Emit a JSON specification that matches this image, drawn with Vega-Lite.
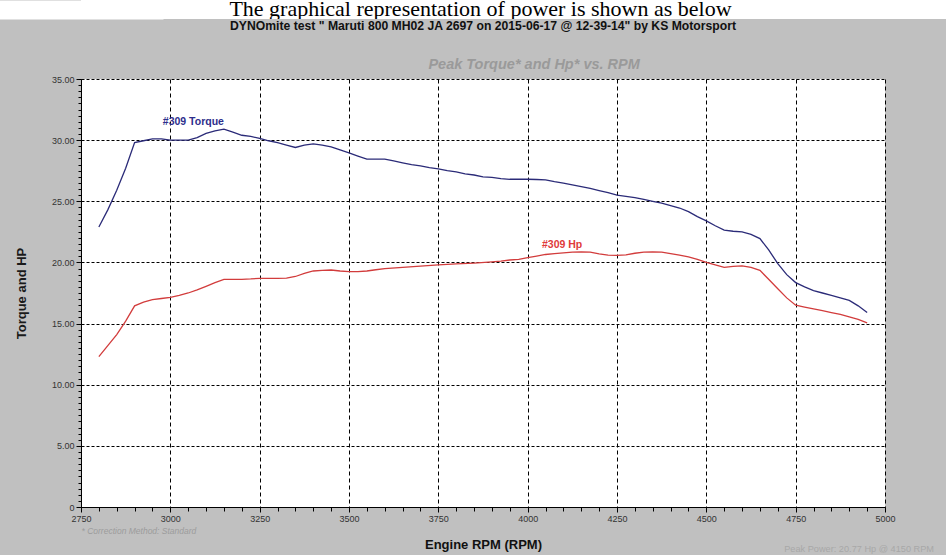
{
  "$schema": "https://vega.github.io/schema/vega-lite/v6.json",
  "background": "#c0c0c0",
  "padding": 0,
  "spacing": 0,
  "columns": 1,
  "config": {"view": {"stroke": null}},
  "datasets": {
    "curves": [
      {"rpm": 2800, "series": "Torque", "value": 22.9},
      {"rpm": 2825, "series": "Torque", "value": 24.3},
      {"rpm": 2850, "series": "Torque", "value": 25.9},
      {"rpm": 2875, "series": "Torque", "value": 27.7},
      {"rpm": 2900, "series": "Torque", "value": 29.8},
      {"rpm": 2925, "series": "Torque", "value": 29.95},
      {"rpm": 2950, "series": "Torque", "value": 30.1},
      {"rpm": 2975, "series": "Torque", "value": 30.1},
      {"rpm": 3000, "series": "Torque", "value": 30.0},
      {"rpm": 3025, "series": "Torque", "value": 30.0},
      {"rpm": 3050, "series": "Torque", "value": 30.0},
      {"rpm": 3075, "series": "Torque", "value": 30.2},
      {"rpm": 3100, "series": "Torque", "value": 30.55},
      {"rpm": 3125, "series": "Torque", "value": 30.75},
      {"rpm": 3150, "series": "Torque", "value": 30.9},
      {"rpm": 3175, "series": "Torque", "value": 30.65},
      {"rpm": 3200, "series": "Torque", "value": 30.4},
      {"rpm": 3225, "series": "Torque", "value": 30.3},
      {"rpm": 3250, "series": "Torque", "value": 30.15},
      {"rpm": 3275, "series": "Torque", "value": 29.95},
      {"rpm": 3300, "series": "Torque", "value": 29.8},
      {"rpm": 3325, "series": "Torque", "value": 29.6},
      {"rpm": 3350, "series": "Torque", "value": 29.4},
      {"rpm": 3375, "series": "Torque", "value": 29.6},
      {"rpm": 3400, "series": "Torque", "value": 29.7},
      {"rpm": 3425, "series": "Torque", "value": 29.6},
      {"rpm": 3450, "series": "Torque", "value": 29.45},
      {"rpm": 3475, "series": "Torque", "value": 29.2},
      {"rpm": 3500, "series": "Torque", "value": 28.95},
      {"rpm": 3525, "series": "Torque", "value": 28.7},
      {"rpm": 3550, "series": "Torque", "value": 28.45},
      {"rpm": 3575, "series": "Torque", "value": 28.45},
      {"rpm": 3600, "series": "Torque", "value": 28.45},
      {"rpm": 3625, "series": "Torque", "value": 28.3},
      {"rpm": 3650, "series": "Torque", "value": 28.15},
      {"rpm": 3675, "series": "Torque", "value": 28.0},
      {"rpm": 3700, "series": "Torque", "value": 27.9},
      {"rpm": 3725, "series": "Torque", "value": 27.75},
      {"rpm": 3750, "series": "Torque", "value": 27.65},
      {"rpm": 3775, "series": "Torque", "value": 27.5},
      {"rpm": 3800, "series": "Torque", "value": 27.4},
      {"rpm": 3825, "series": "Torque", "value": 27.25},
      {"rpm": 3850, "series": "Torque", "value": 27.15},
      {"rpm": 3875, "series": "Torque", "value": 27.0},
      {"rpm": 3900, "series": "Torque", "value": 26.95},
      {"rpm": 3925, "series": "Torque", "value": 26.85},
      {"rpm": 3950, "series": "Torque", "value": 26.8},
      {"rpm": 3975, "series": "Torque", "value": 26.8},
      {"rpm": 4000, "series": "Torque", "value": 26.8},
      {"rpm": 4025, "series": "Torque", "value": 26.78},
      {"rpm": 4050, "series": "Torque", "value": 26.75},
      {"rpm": 4075, "series": "Torque", "value": 26.6},
      {"rpm": 4100, "series": "Torque", "value": 26.48},
      {"rpm": 4125, "series": "Torque", "value": 26.35},
      {"rpm": 4150, "series": "Torque", "value": 26.2},
      {"rpm": 4175, "series": "Torque", "value": 26.05},
      {"rpm": 4200, "series": "Torque", "value": 25.88},
      {"rpm": 4225, "series": "Torque", "value": 25.7},
      {"rpm": 4250, "series": "Torque", "value": 25.5},
      {"rpm": 4275, "series": "Torque", "value": 25.4},
      {"rpm": 4300, "series": "Torque", "value": 25.3},
      {"rpm": 4325, "series": "Torque", "value": 25.15},
      {"rpm": 4350, "series": "Torque", "value": 25.0},
      {"rpm": 4375, "series": "Torque", "value": 24.85},
      {"rpm": 4400, "series": "Torque", "value": 24.65},
      {"rpm": 4425, "series": "Torque", "value": 24.45},
      {"rpm": 4450, "series": "Torque", "value": 24.15},
      {"rpm": 4475, "series": "Torque", "value": 23.75},
      {"rpm": 4500, "series": "Torque", "value": 23.4},
      {"rpm": 4525, "series": "Torque", "value": 23.0},
      {"rpm": 4550, "series": "Torque", "value": 22.65},
      {"rpm": 4575, "series": "Torque", "value": 22.55},
      {"rpm": 4600, "series": "Torque", "value": 22.5},
      {"rpm": 4625, "series": "Torque", "value": 22.3},
      {"rpm": 4650, "series": "Torque", "value": 21.95},
      {"rpm": 4675, "series": "Torque", "value": 21.0},
      {"rpm": 4700, "series": "Torque", "value": 19.9},
      {"rpm": 4725, "series": "Torque", "value": 19.0},
      {"rpm": 4750, "series": "Torque", "value": 18.35},
      {"rpm": 4775, "series": "Torque", "value": 18.0},
      {"rpm": 4800, "series": "Torque", "value": 17.7},
      {"rpm": 4825, "series": "Torque", "value": 17.5},
      {"rpm": 4850, "series": "Torque", "value": 17.3},
      {"rpm": 4875, "series": "Torque", "value": 17.1},
      {"rpm": 4900, "series": "Torque", "value": 16.9},
      {"rpm": 4925, "series": "Torque", "value": 16.45},
      {"rpm": 4950, "series": "Torque", "value": 15.9},
      {"rpm": 2800, "series": "Hp", "value": 12.3},
      {"rpm": 2825, "series": "Hp", "value": 13.2},
      {"rpm": 2850, "series": "Hp", "value": 14.1},
      {"rpm": 2875, "series": "Hp", "value": 15.2},
      {"rpm": 2900, "series": "Hp", "value": 16.45},
      {"rpm": 2925, "series": "Hp", "value": 16.75},
      {"rpm": 2950, "series": "Hp", "value": 16.95},
      {"rpm": 2975, "series": "Hp", "value": 17.05},
      {"rpm": 3000, "series": "Hp", "value": 17.15},
      {"rpm": 3025, "series": "Hp", "value": 17.3},
      {"rpm": 3050, "series": "Hp", "value": 17.5},
      {"rpm": 3075, "series": "Hp", "value": 17.75},
      {"rpm": 3100, "series": "Hp", "value": 18.05},
      {"rpm": 3125, "series": "Hp", "value": 18.35},
      {"rpm": 3150, "series": "Hp", "value": 18.62},
      {"rpm": 3175, "series": "Hp", "value": 18.62},
      {"rpm": 3200, "series": "Hp", "value": 18.62},
      {"rpm": 3225, "series": "Hp", "value": 18.65},
      {"rpm": 3250, "series": "Hp", "value": 18.7},
      {"rpm": 3275, "series": "Hp", "value": 18.7},
      {"rpm": 3300, "series": "Hp", "value": 18.7},
      {"rpm": 3325, "series": "Hp", "value": 18.72},
      {"rpm": 3350, "series": "Hp", "value": 18.85},
      {"rpm": 3375, "series": "Hp", "value": 19.1},
      {"rpm": 3400, "series": "Hp", "value": 19.3},
      {"rpm": 3425, "series": "Hp", "value": 19.35},
      {"rpm": 3450, "series": "Hp", "value": 19.38},
      {"rpm": 3475, "series": "Hp", "value": 19.3},
      {"rpm": 3500, "series": "Hp", "value": 19.25},
      {"rpm": 3525, "series": "Hp", "value": 19.25},
      {"rpm": 3550, "series": "Hp", "value": 19.3},
      {"rpm": 3575, "series": "Hp", "value": 19.4},
      {"rpm": 3600, "series": "Hp", "value": 19.5},
      {"rpm": 3650, "series": "Hp", "value": 19.6},
      {"rpm": 3700, "series": "Hp", "value": 19.7},
      {"rpm": 3750, "series": "Hp", "value": 19.8},
      {"rpm": 3800, "series": "Hp", "value": 19.88},
      {"rpm": 3850, "series": "Hp", "value": 19.95},
      {"rpm": 3900, "series": "Hp", "value": 20.05},
      {"rpm": 3925, "series": "Hp", "value": 20.1},
      {"rpm": 3950, "series": "Hp", "value": 20.2},
      {"rpm": 3975, "series": "Hp", "value": 20.25},
      {"rpm": 4000, "series": "Hp", "value": 20.4},
      {"rpm": 4025, "series": "Hp", "value": 20.52},
      {"rpm": 4050, "series": "Hp", "value": 20.65},
      {"rpm": 4075, "series": "Hp", "value": 20.72},
      {"rpm": 4100, "series": "Hp", "value": 20.78},
      {"rpm": 4125, "series": "Hp", "value": 20.85},
      {"rpm": 4150, "series": "Hp", "value": 20.87},
      {"rpm": 4175, "series": "Hp", "value": 20.85},
      {"rpm": 4200, "series": "Hp", "value": 20.7},
      {"rpm": 4225, "series": "Hp", "value": 20.6},
      {"rpm": 4250, "series": "Hp", "value": 20.58},
      {"rpm": 4275, "series": "Hp", "value": 20.62},
      {"rpm": 4300, "series": "Hp", "value": 20.75},
      {"rpm": 4325, "series": "Hp", "value": 20.85},
      {"rpm": 4350, "series": "Hp", "value": 20.87},
      {"rpm": 4375, "series": "Hp", "value": 20.85},
      {"rpm": 4400, "series": "Hp", "value": 20.72},
      {"rpm": 4425, "series": "Hp", "value": 20.6},
      {"rpm": 4450, "series": "Hp", "value": 20.45},
      {"rpm": 4475, "series": "Hp", "value": 20.25},
      {"rpm": 4500, "series": "Hp", "value": 20.0},
      {"rpm": 4525, "series": "Hp", "value": 19.8},
      {"rpm": 4550, "series": "Hp", "value": 19.6},
      {"rpm": 4575, "series": "Hp", "value": 19.68},
      {"rpm": 4600, "series": "Hp", "value": 19.72},
      {"rpm": 4625, "series": "Hp", "value": 19.6},
      {"rpm": 4650, "series": "Hp", "value": 19.35},
      {"rpm": 4675, "series": "Hp", "value": 18.6},
      {"rpm": 4700, "series": "Hp", "value": 17.85},
      {"rpm": 4725, "series": "Hp", "value": 17.1},
      {"rpm": 4750, "series": "Hp", "value": 16.5},
      {"rpm": 4775, "series": "Hp", "value": 16.35},
      {"rpm": 4800, "series": "Hp", "value": 16.2},
      {"rpm": 4825, "series": "Hp", "value": 16.05},
      {"rpm": 4850, "series": "Hp", "value": 15.9},
      {"rpm": 4875, "series": "Hp", "value": 15.75},
      {"rpm": 4900, "series": "Hp", "value": 15.55},
      {"rpm": 4925, "series": "Hp", "value": 15.35},
      {"rpm": 4950, "series": "Hp", "value": 15.05}
    ]
  },
  "concat": [
    {
      "width": 865,
      "height": 19,
      "view": {"fill": "#ffffff", "stroke": null},
      "data": {"values": [{"caption": "The graphical representation of power is shown as below"}]},
      "mark": {"type": "text", "font": "Liberation Serif", "fontSize": 22, "color": "#000000", "baseline": "alphabetic", "dx": -33, "dy": 6.5, "clip": true},
      "encoding": {
        "text": {"field": "caption"},
        "y": {
          "datum": 0.5, "type": "quantitative",
          "scale": {"domain": [0, 1]},
          "axis": {"orient": "left", "domain": true, "domainColor": "#ffffff", "domainWidth": 164, "ticks": false, "labels": false, "grid": false, "title": null}
        }
      }
    },
    {
      "width": 804,
      "height": 428,
      "view": {"fill": "#ffffff", "stroke": null},
      "title": {
        "text": "DYNOmite test \" Maruti 800 MH02 JA 2697 on 2015-06-17 @ 12-39-14\" by KS Motorsport",
        "font": "Liberation Sans",
        "fontSize": 12.2,
        "fontWeight": "bold",
        "color": "#111111",
        "anchor": "middle",
        "frame": "group",
        "offset": 25
      },
      "resolve": {"scale": {"x": "shared", "y": "shared"}, "axis": {"x": "independent", "y": "independent"}},
      "layer": [
        {
          "data": {"name": "curves"},
          "mark": {"type": "line", "strokeWidth": 1.3},
          "encoding": {
            "x": {
              "field": "rpm", "type": "quantitative",
              "scale": {"domain": [2750, 5000], "nice": false, "zero": false},
              "axis": {
                "orient": "bottom",
                "values": [2750, 3000, 3250, 3500, 3750, 4000, 4250, 4500, 4750, 5000],
                "format": "d",
                "grid": true, "gridColor": "#000000", "gridDash": [4, 3], "gridWidth": 1, "gridOpacity": 1,
                "domainColor": "#000000", "domainWidth": 1,
                "tickColor": "#000000", "tickSize": 5,
                "labelFont": "Liberation Sans",
                "labelFontSize": 9, "labelColor": "#333333", "labelPadding": 2,
                "labelFlush": false, "labelOverlap": false,
                "title": "Engine RPM (RPM)",
                "titleFont": "Liberation Sans",
                "titleFontSize": 13, "titleFontWeight": "bold", "titleColor": "#111111", "titlePadding": 15
              }
            },
            "y": {
              "field": "value", "type": "quantitative",
              "scale": {"domain": [0, 35], "nice": false},
              "axis": {
                "orient": "left",
                "values": [0, 5, 10, 15, 20, 25, 30, 35],
                "labelExpr": "datum.value == 0 ? '0' : format(datum.value, '.2f')",
                "grid": true, "gridColor": "#000000", "gridDash": [3, 2], "gridWidth": 1, "gridOpacity": 1,
                "domainColor": "#000000", "domainWidth": 1,
                "tickColor": "#000000", "tickSize": 5,
                "labelFont": "Liberation Sans",
                "labelFontSize": 9, "labelColor": "#333333", "labelPadding": 2,
                "labelFlush": false, "labelOverlap": false,
                "title": "Torque and HP",
                "titleFont": "Liberation Sans",
                "titleFontSize": 13, "titleFontWeight": "bold", "titleColor": "#1a1a1a", "titlePadding": 23
              }
            },
            "color": {
              "field": "series", "type": "nominal",
              "scale": {"domain": ["Torque", "Hp"], "range": ["#2b2b78", "#d23c3c"]},
              "legend": null
            }
          }
        },
        {
          "data": {"values": [{}]},
          "mark": {"type": "text", "align": "left", "baseline": "alphabetic", "font": "Liberation Sans", "fontSize": 10.5, "fontWeight": "bold", "color": "#2e2e8c"},
          "encoding": {
            "x": {
              "datum": 2979, "type": "quantitative",
              "axis": {
                "orient": "bottom",
                "values": [2750, 2800, 2850, 2900, 2950, 3000, 3050, 3100, 3150, 3200, 3250, 3300, 3350, 3400, 3450, 3500, 3550, 3600, 3650, 3700, 3750, 3800, 3850, 3900, 3950, 4000, 4050, 4100, 4150, 4200, 4250, 4300, 4350, 4400, 4450, 4500, 4550, 4600, 4650, 4700, 4750, 4800, 4850, 4900, 4950, 5000],
                "labels": false, "grid": false, "domain": false,
                "tickColor": "#000000", "tickSize": 4,
                "title": "* Correction Method: Standard",
                "titleAnchor": "start",
                "titleFont": "Liberation Sans",
                "titleFontSize": 8.5, "titleFontStyle": "italic", "titleFontWeight": "normal",
                "titleColor": "#9c9c9c", "titlePadding": 15
              }
            },
            "y": {
              "datum": 31.2, "type": "quantitative",
              "axis": {
                "orient": "left",
                "values": [0, 0.5, 1, 1.5, 2, 2.5, 3, 3.5, 4, 4.5, 5, 5.5, 6, 6.5, 7, 7.5, 8, 8.5, 9, 9.5, 10, 10.5, 11, 11.5, 12, 12.5, 13, 13.5, 14, 14.5, 15, 15.5, 16, 16.5, 17, 17.5, 18, 18.5, 19, 19.5, 20, 20.5, 21, 21.5, 22, 22.5, 23, 23.5, 24, 24.5, 25, 25.5, 26, 26.5, 27, 27.5, 28, 28.5, 29, 29.5, 30, 30.5, 31, 31.5, 32, 32.5, 33, 33.5, 34, 34.5, 35],
                "labels": false, "grid": false, "domain": false,
                "tickColor": "#000000", "tickSize": 3,
                "title": " ",
                "titleFont": "Liberation Sans", "titleFontSize": 10, "titleOpacity": 0,
                "titlePadding": 67
              }
            },
            "text": {"value": "#309 Torque"}
          }
        },
        {
          "data": {"values": [{}]},
          "mark": {"type": "text", "align": "left", "baseline": "alphabetic", "font": "Liberation Sans", "fontSize": 10.5, "fontWeight": "bold", "color": "#e03a3a"},
          "encoding": {
            "x": {"datum": 4040, "type": "quantitative", "axis": null},
            "y": {"datum": 21.2, "type": "quantitative", "axis": null},
            "text": {"value": "#309 Hp"}
          }
        },
        {
          "data": {"values": [{}]},
          "mark": {"type": "text", "align": "center", "baseline": "alphabetic", "dy": -10, "font": "Liberation Sans", "fontSize": 14.5, "fontStyle": "italic", "fontWeight": "bold", "color": "#9a9a9a"},
          "encoding": {
            "x": {"datum": 4018, "type": "quantitative", "axis": null},
            "y": {"datum": 35, "type": "quantitative", "axis": null},
            "text": {"value": "Peak Torque* and Hp* vs. RPM"}
          }
        },
        {
          "data": {"values": [{}]},
          "mark": {"type": "text", "align": "right", "baseline": "alphabetic", "dx": 49, "dy": 45, "font": "Liberation Sans", "fontSize": 9.2, "color": "#a8a8a8"},
          "encoding": {
            "x": {"datum": 5000, "type": "quantitative", "axis": null},
            "y": {"datum": 0, "type": "quantitative", "axis": null},
            "text": {"value": "Peak Power: 20.77 Hp @ 4150 RPM"}
          }
        }
      ]
    }
  ]
}
